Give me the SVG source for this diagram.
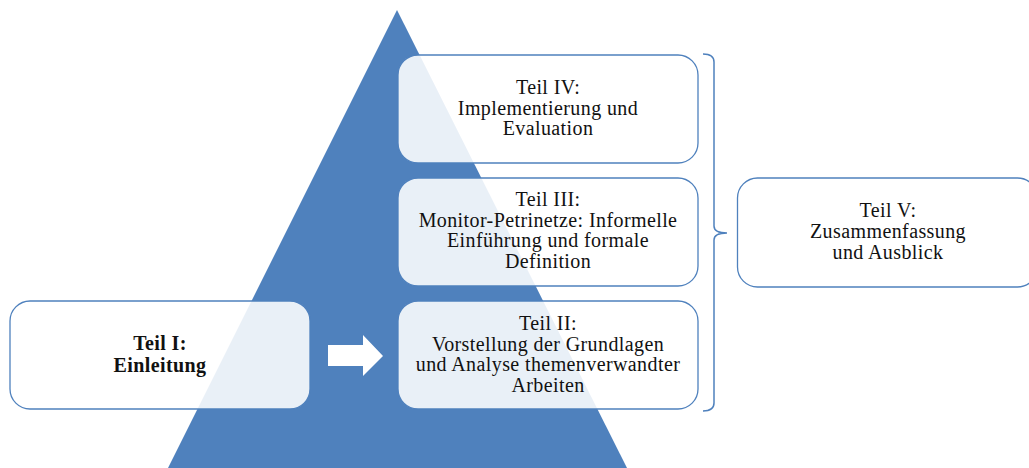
<svg xmlns="http://www.w3.org/2000/svg" width="1029" height="468" viewBox="0 0 1029 468">
<style>
.box{fill:#ffffff;fill-opacity:0.88;stroke:#4f81bd;stroke-width:1.3}
.t{font-family:"Liberation Serif","Times New Roman",serif;font-size:20px;fill:#111;text-anchor:middle;letter-spacing:0.4px}
.b{font-weight:bold}
.con{fill:none;stroke:#4f81bd;stroke-width:1.5}
</style>
<rect width="1029" height="468" fill="#ffffff"/>
<polygon id="pyramid" points="397,10 627,468 168,468" fill="#4f81bd"/>
<g id="teil1">
<rect class="box" x="10" y="301" width="300" height="108" rx="20"/>
<text class="t b" x="160" y="350">Teil I:</text>
<text class="t b" x="160" y="372">Einleitung</text>
</g>
<g id="teil2">
<rect class="box" x="398" y="301" width="300" height="108" rx="20"/>
<text class="t" x="548" y="330">Teil II:</text>
<text class="t" x="548" y="350.5">Vorstellung der Grundlagen</text>
<text class="t" x="548" y="371">und Analyse themenverwandter</text>
<text class="t" x="548" y="391.5">Arbeiten</text>
</g>
<g id="teil3">
<rect class="box" x="398" y="178" width="300" height="108" rx="20"/>
<text class="t" x="548" y="206">Teil III:</text>
<text class="t" x="548" y="226.5">Monitor-Petrinetze: Informelle</text>
<text class="t" x="548" y="247">Einführung und formale</text>
<text class="t" x="548" y="267.5">Definition</text>
</g>
<g id="teil4">
<rect class="box" x="398" y="55" width="300" height="108" rx="20"/>
<text class="t" x="548" y="94">Teil IV:</text>
<text class="t" x="548" y="114.5">Implementierung und</text>
<text class="t" x="548" y="135">Evaluation</text>
</g>
<g id="teil5">
<rect class="box" x="737.5" y="178" width="300" height="109" rx="20"/>
<text class="t" x="888" y="217">Teil V:</text>
<text class="t" x="888" y="238">Zusammenfassung</text>
<text class="t" x="888" y="259">und Ausblick</text>
</g>
<g id="connectors">
<polygon points="328,345 363,345 363,335 383,356 363,376 363,366 328,366" fill="#ffffff"/>
<path class="con" d="M703,54 Q714,54 714,62 L714,226 Q714,233 727,233 Q714,233 714,240 L714,403 Q714,411 703,411"/>
</g>
</svg>
